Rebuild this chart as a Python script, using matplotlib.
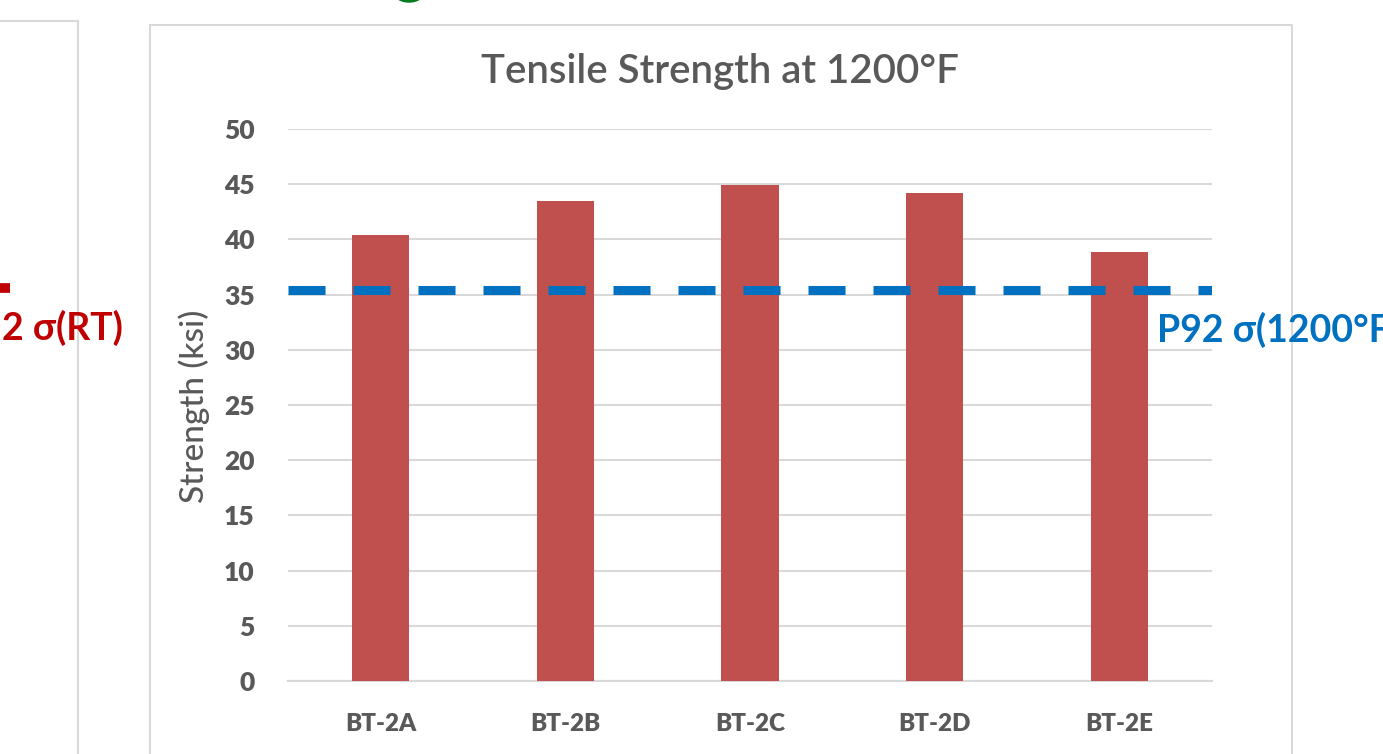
import matplotlib
matplotlib.use("Agg")
import matplotlib.pyplot as plt
from matplotlib.patches import Ellipse
from matplotlib.lines import Line2D

plt.rcParams['font.family'] = ['Lato', 'DejaVu Sans']

# Data
samples = ["BT-2A", "BT-2B", "BT-2C", "BT-2D", "BT-2E"]
strength_ksi = [40.4, 43.5, 44.9, 44.2, 38.9]
p92_reference_ksi = 35.4
y_ticks = [0, 5, 10, 15, 20, 25, 30, 35, 40, 45, 50]

W, H = 1383, 754
fig = plt.figure(figsize=(W / 100, H / 100), dpi=100)


def fx(x):
    return x / W


def fy(y):
    return 1 - y / H


GRAY_TEXT = "#595959"
BAR_RED = "#C0504D"
BLUE = "#0070C0"
DARK_RED = "#C00000"
BORDER = "#D9D9D9"

# Panel frames
fig.add_artist(Line2D([fx(0), fx(78)], [fy(21), fy(21)], color=BORDER, lw=1.5, transform=fig.transFigure))
fig.add_artist(Line2D([fx(78), fx(78)], [fy(21), fy(760)], color=BORDER, lw=1.5, transform=fig.transFigure))
fig.add_artist(Line2D([fx(150), fx(1292), fx(1292)], [fy(25), fy(25), fy(760)], color=BORDER, lw=1.5,
                      transform=fig.transFigure))
fig.add_artist(Line2D([fx(150), fx(150)], [fy(25), fy(760)], color=BORDER, lw=1.5, transform=fig.transFigure))

# Green marker peeking at the top edge
fig.add_artist(Ellipse((fx(409), fy(-9)), 32 / W, 22 / H, color="#007A1E", transform=fig.transFigure))

# Red dash fragment and label on the left
fig.add_artist(Line2D([fx(0), fx(10)], [fy(288), fy(288)], color=DARK_RED, lw=7, solid_capstyle="butt",
                      transform=fig.transFigure))
fig.text(fx(2), fy(340), "2 σ(RT)", color=DARK_RED, fontsize=27, fontweight="bold", ha="left", va="baseline")

# Chart axes
ax = fig.add_axes([fx(288), fy(681), fx(1212) - fx(288), fy(129) - fy(681)])
x = list(range(len(samples)))
ax.bar(x, strength_ksi, width=0.31, color=BAR_RED, zorder=3)
ax.set_xlim(-0.5, len(samples) - 0.5)
ax.set_ylim(0, 50)
ax.set_yticks(y_ticks)
ax.set_xticks(x)
ax.set_xticklabels(samples)
ax.yaxis.grid(True, color=BORDER, lw=1.5, zorder=0)
ax.set_axisbelow(True)
for s in ["top", "right", "left"]:
    ax.spines[s].set_visible(False)
ax.spines["bottom"].set_color(BORDER)
ax.spines["bottom"].set_linewidth(1.5)
ax.tick_params(axis="both", length=0, labelcolor=GRAY_TEXT)
ax.tick_params(axis="y", pad=24, labelsize=19)
ax.tick_params(axis="x", pad=23, labelsize=17.5)
for lab in ax.get_xticklabels() + ax.get_yticklabels():
    lab.set_fontweight(800)

ax.axhline(p92_reference_ksi, color=BLUE, lw=6.5, dashes=(4.1, 3.1), dash_capstyle="butt", zorder=4)

fig.text(fx(194), fy(406), "Strength (ksi)", color=GRAY_TEXT, fontsize=24, fontweight=500, rotation=90,
         ha="center", va="center")

fig.text(fx(720), fy(83), "Tensile Strength at 1200°F", color=GRAY_TEXT, fontsize=29, fontweight=600,
         ha="center", va="baseline")

fig.text(fx(1157), fy(342), "P92 σ(1200°F)", color=BLUE, fontsize=27, fontweight="bold",
         ha="left", va="baseline")

fig.savefig("out.png", dpi=100, facecolor="white")
